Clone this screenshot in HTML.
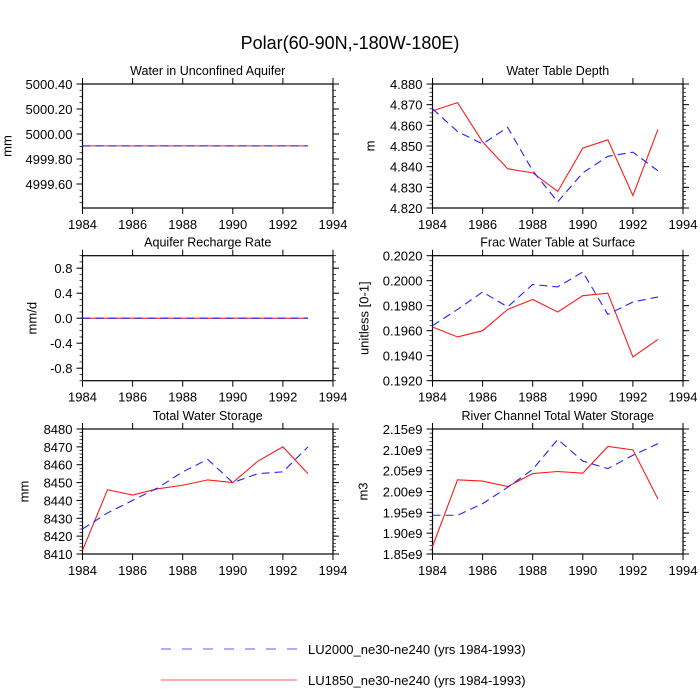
<!DOCTYPE html>
<html><head><meta charset="utf-8"><style>
body{margin:0;background:#fff;}
svg{display:block;font-family:"Liberation Sans",sans-serif;}
</style></head><body>
<svg id="chart" width="700" height="700" viewBox="0 0 700 700">
<text x="350" y="49" font-size="18" text-anchor="middle">Polar(60-90N,-180W-180E)</text>
<g>
<line x1="161" y1="649" x2="297" y2="649" stroke="#3333ff" stroke-width="1" stroke-dasharray="10,11" opacity="0.8"/>
<text x="308" y="654" font-size="13">LU2000_ne30-ne240 (yrs 1984-1993)</text>
<line x1="161" y1="680" x2="297" y2="680" stroke="#ff3333" stroke-width="1" opacity="0.8"/>
<text x="308" y="685" font-size="13">LU1850_ne30-ne240 (yrs 1984-1993)</text>
</g>
</svg>
<script>
const years = [1984,1985,1986,1987,1988,1989,1990,1991,1992,1993];
const xTicks = [1984,1986,1988,1990,1992,1994];
const titles = ["Water in Unconfined Aquifer","Water Table Depth","Aquifer Recharge Rate","Frac Water Table at Surface","Total Water Storage","River Channel Total Water Storage"];
const units = ["mm","m","mm/d","unitless [0-1]","mm","m3"];
const redAquifer = [4999.905,4999.905,4999.905,4999.905,4999.905,4999.905,4999.905,4999.905,4999.905,4999.905];
const blueAquifer = [4999.905,4999.905,4999.905,4999.905,4999.905,4999.905,4999.905,4999.905,4999.905,4999.905];
const redWTD = [4.867,4.871,4.852,4.839,4.837,4.828,4.849,4.853,4.826,4.858];
const blueWTD = [4.868,4.857,4.851,4.859,4.838,4.823,4.837,4.845,4.847,4.838];
const redRecharge = [0,0,0,0,0,0,0,0,0,0];
const blueRecharge = [0,0,0,0,0,0,0,0,0,0];
const redFrac = [0.1963,0.1955,0.1960,0.1977,0.1985,0.1975,0.1988,0.1990,0.1939,0.1953];
const blueFrac = [0.1964,0.1977,0.1991,0.1979,0.1997,0.1995,0.2007,0.1973,0.1983,0.1987];
const redTWS = [8412,8446,8443,8446.5,8448.5,8451.5,8450,8462,8470,8455];
const blueTWS = [8424,8433,8440,8447,8456,8463,8450,8455,8456,8470];
const redRiver = [1.868e9,2.028e9,2.025e9,2.012e9,2.043e9,2.048e9,2.044e9,2.108e9,2.100e9,1.982e9];
const blueRiver = [1.943e9,1.943e9,1.971e9,2.010e9,2.053e9,2.125e9,2.073e9,2.055e9,2.087e9,2.115e9];
const yTicks0 = [4999.6,4999.8,5000.0,5000.2,5000.4];
const yTicks1 = [4.82,4.83,4.84,4.85,4.86,4.87,4.88];
const yTicks2 = [-0.8,-0.4,0.0,0.4,0.8];
const yTicks3 = [0.192,0.194,0.196,0.198,0.200,0.202];
const yTicks4 = [8410,8420,8430,8440,8450,8460,8470,8480];
const yTicks5 = [1.85e9,1.90e9,1.95e9,2.00e9,2.05e9,2.10e9,2.15e9];
const yLabels0 = ["4999.60","4999.80","5000.00","5000.20","5000.40"];
const yLabels1 = ["4.820","4.830","4.840","4.850","4.860","4.870","4.880"];
const yLabels2 = ["-0.8","-0.4","0.0","0.4","0.8"];
const yLabels3 = ["0.1920","0.1940","0.1960","0.1980","0.2000","0.2020"];
const yLabels4 = ["8410","8420","8430","8440","8450","8460","8470","8480"];
const yLabels5 = ["1.85e9","1.90e9","1.95e9","2.00e9","2.05e9","2.10e9","2.15e9"];
const yMin = [4999.408,4.82,-1.0,0.192,8410,1.85e9];
const yMax = [5000.4,4.88,1.0,0.202,8480,2.15e9];

const panels=[
 {x0:82.5,x1:333,y0:84,y1:208,red:redAquifer,blue:blueAquifer,t:yTicks0,l:yLabels0,minor:4,yt:75},
 {x0:432.5,x1:683,y0:84,y1:208,red:redWTD,blue:blueWTD,t:yTicks1,l:yLabels1,minor:5,yt:62},
 {x0:82.5,x1:333,y0:255.7,y1:380.7,red:redRecharge,blue:blueRecharge,t:yTicks2,l:yLabels2,minor:4,yt:50},
 {x0:432.5,x1:683,y0:255.7,y1:380.7,red:redFrac,blue:blueFrac,t:yTicks3,l:yLabels3,minor:5,yt:68},
 {x0:82.5,x1:333,y0:429,y1:554,red:redTWS,blue:blueTWS,t:yTicks4,l:yLabels4,minor:5,yt:58},
 {x0:432.5,x1:683,y0:429,y1:554,red:redRiver,blue:blueRiver,t:yTicks5,l:yLabels5,minor:5,yt:69}
];
const svg=document.getElementById('chart');
const NS='http://www.w3.org/2000/svg';
function mk(tag,attrs,parent){const e=document.createElementNS(NS,tag);for(const k in attrs)e.setAttribute(k,attrs[k]);parent.appendChild(e);return e;}
panels.forEach((p,i)=>{
 const g=mk('g',{},svg);
 
 
 const xs=v=>p.x0+(v-1984)/10*(p.x1-p.x0);
 const ys=v=>p.y1-(v-yMin[i])/(yMax[i]-yMin[i])*(p.y1-p.y0);
 const tt=mk('text',{x:(p.x0+p.x1)/2,y:p.y0-9,'font-size':12.5,'text-anchor':'middle'},g);
 tt.textContent=titles[i];
 
 
 const yl=mk('text',{x:0,y:0,'font-size':13,'text-anchor':'middle',transform:`translate(${p.x0-p.yt+4},${(p.y0+p.y1)/2}) rotate(-90)`},g);
 yl.textContent=units[i];
 
 
 xTicks.forEach(v=>{
  const x=xs(v);
  mk('line',{x1:x,x2:x,y1:p.y1,y2:p.y1+6,stroke:'#000'},g);
  mk('line',{x1:x,x2:x,y1:p.y0,y2:p.y0-6,stroke:'#000'},g);
  const t=mk('text',{x:x,y:p.y1+21,'font-size':13,'text-anchor':'middle'},g);
  t.textContent=v;
  
  
 });
 const step=p.t[1]-p.t[0];
 p.t.forEach((v,k)=>{
  const y=ys(v);
  mk('line',{x1:p.x0,x2:p.x0-6,y1:y,y2:y,stroke:'#000'},g);
  mk('line',{x1:p.x1,x2:p.x1+6,y1:y,y2:y,stroke:'#000'},g);
  const t=mk('text',{x:p.x0-10,y:y+5,'font-size':13,'text-anchor':'end'},g);
  t.textContent=p.l[k];
  
  
 });
 const ms=step/p.minor;
 for(let v=p.t[0]-step;v<=p.t[p.t.length-1]+step;v+=ms){
  const y=ys(v); if(y<p.y0-0.5||y>p.y1+0.5)continue;
  mk('line',{x1:p.x0,x2:p.x0-3,y1:y,y2:y,stroke:'#000','stroke-width':0.7},g);
  mk('line',{x1:p.x1,x2:p.x1+3,y1:y,y2:y,stroke:'#000','stroke-width':0.7},g);
 }
 const fr=mk('rect',{x:p.x0,y:p.y0,width:p.x1-p.x0,height:p.y1-p.y0,fill:'none',stroke:'#000','stroke-width':1.2},g);
 
 
 const ptsR=years.map((yr,k)=>xs(yr)+','+ys(p.red[k])).join(' ');
 const ptsB=years.map((yr,k)=>xs(yr)+','+ys(p.blue[k])).join(' ');
 const lr=mk('polyline',{points:ptsR,fill:'none',stroke:'#ff1a1a','stroke-width':1.1},g);
 
 
 const lb=mk('polyline',{points:ptsB,fill:'none',stroke:'#2222ff','stroke-width':1.1,'stroke-dasharray':'8,5'},g);
 
 
});
</script>
</body></html>
